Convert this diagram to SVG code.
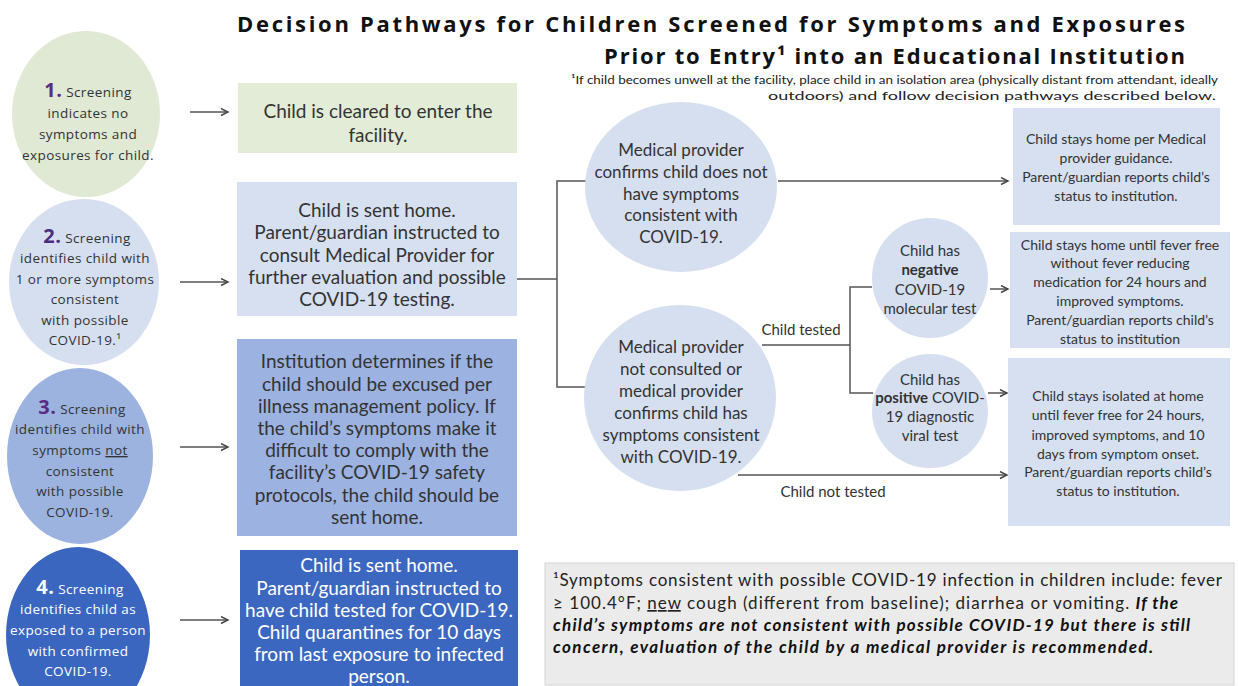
<svg xmlns="http://www.w3.org/2000/svg" width="1238" height="686" viewBox="0 0 1238 686">
<style>
.t{font-family:Lato,"Liberation Sans",sans-serif;fill:#333;text-anchor:middle}
.c{font-family:"Open Sans","Liberation Sans",sans-serif;fill:#333;text-anchor:middle;font-size:13.5px;letter-spacing:0.4px}
.cw{fill:#fff}
.b{font-size:19px}
.s{font-size:14px}
.ss{font-size:15px}
.m{font-size:17px}
.num{font-weight:bold;font-size:20px}
.w{fill:#fff}
.ln{fill:none;stroke:#555;stroke-width:1.5}
.title{font-family:"Open Sans","Liberation Sans",sans-serif;font-weight:bold;font-size:22px;fill:#111;text-anchor:end}
.note{font-family:Lato,"Liberation Sans",sans-serif;font-size:12px;fill:#222;text-anchor:end}
.fn{font-family:Lato,"Liberation Sans",sans-serif;font-size:17px;fill:#222}
.bi{font-weight:bold;font-style:italic;fill:#111}
</style>
<defs>
<marker id="ar" markerWidth="10" markerHeight="10" refX="8" refY="4" orient="auto" markerUnits="userSpaceOnUse">
<path d="M1,0.5 L8,4 L1,7.5" fill="none" stroke="#444" stroke-width="1.4"/>
</marker>
</defs>
<rect width="1238" height="686" fill="#fff"/>

<g id="title">
<text class="title" x="1185" y="32" textLength="948" lengthAdjust="spacing">Decision Pathways for Children Screened for Symptoms and Exposures</text>
<text class="title" x="1185" y="64" textLength="581" lengthAdjust="spacing">Prior to Entry¹ into an Educational Institution</text>
<text class="note" x="1218" y="84" textLength="647" lengthAdjust="spacingAndGlyphs">¹If child becomes unwell at the facility, place child in an isolation area (physically distant from attendant, ideally</text>
<text class="note" x="1216" y="100" textLength="448" lengthAdjust="spacingAndGlyphs">outdoors) and follow decision pathways described below.</text>
</g>

<g id="connectors">
<line class="ln" x1="190" y1="112" x2="228" y2="112" marker-end="url(#ar)"/>
<line class="ln" x1="180" y1="282" x2="228" y2="282" marker-end="url(#ar)"/>
<line class="ln" x1="180" y1="447" x2="228" y2="447" marker-end="url(#ar)"/>
<line class="ln" x1="180" y1="620" x2="228" y2="620" marker-end="url(#ar)"/>
<path class="ln" d="M517,279 H557 M588,181 H557 V387 H588"/>
<line class="ln" x1="778" y1="181" x2="1008" y2="181" marker-end="url(#ar)"/>
<path class="ln" d="M762,345 H850 M872,287 H850 V393 H873"/>
<line class="ln" x1="990" y1="289" x2="1008" y2="289" marker-end="url(#ar)"/>
<line class="ln" x1="988" y1="393" x2="1007" y2="393" marker-end="url(#ar)"/>
<line class="ln" x1="738" y1="475" x2="1007" y2="475" marker-end="url(#ar)"/>
<text class="t ss" x="801" y="335">Child tested</text>
<text class="t ss" x="833" y="497">Child not tested</text>
</g>

<g id="c1">
<ellipse cx="86" cy="114" rx="74" ry="83" fill="#dfe9d3"/>
<text class="c" x="88" y="97"><tspan class="num" fill="#5a2d82">1.</tspan> Screening</text>
<text class="c" x="88" y="118">indicates no</text>
<text class="c" x="88" y="139">symptoms and</text>
<text class="c" x="88" y="160">exposures for child.</text>
</g>
<g id="b1">
<rect x="238" y="83" width="279" height="70" fill="#e2ecd6"/>
<text class="t b" x="378" y="118">Child is cleared to enter the</text>
<text class="t b" x="378" y="142">facility.</text>
</g>

<g id="c2">
<ellipse cx="84" cy="282" rx="75" ry="83" fill="#d6dff0"/>
<text class="c" x="87" y="243"><tspan class="num" fill="#4b2c80">2.</tspan> Screening</text>
<text class="c" x="85" y="263">identifies child with</text>
<text class="c" x="85" y="284">1 or more symptoms</text>
<text class="c" x="85" y="304">consistent</text>
<text class="c" x="85" y="325">with possible</text>
<text class="c" x="85" y="345">COVID-19.¹</text>
</g>
<g id="b2">
<rect x="237" y="182" width="280" height="134" fill="#d6e0f1"/>
<text class="t b" x="377" y="217">Child is sent home.</text>
<text class="t b" x="377" y="239">Parent/guardian instructed to</text>
<text class="t b" x="377" y="262">consult Medical Provider for</text>
<text class="t b" x="377" y="284">further evaluation and possible</text>
<text class="t b" x="377" y="306">COVID-19 testing.</text>
</g>

<g id="c3">
<ellipse cx="80" cy="456" rx="73" ry="88" fill="#9db3df"/>
<text class="c" x="82" y="414"><tspan class="num" fill="#5b2a86">3.</tspan> Screening</text>
<text class="c" x="80" y="434">identifies child with</text>
<text class="c" x="80" y="455">symptoms <tspan text-decoration="underline">not</tspan></text>
<text class="c" x="80" y="476">consistent</text>
<text class="c" x="80" y="496">with possible</text>
<text class="c" x="80" y="517">COVID-19.</text>
</g>
<g id="b3">
<rect x="237" y="339" width="280" height="197" fill="#9cb2e1"/>
<text class="t b" x="377" y="368">Institution determines if the</text>
<text class="t b" x="377" y="391">child should be excused per</text>
<text class="t b" x="377" y="413">illness management policy. If</text>
<text class="t b" x="377" y="435">the child’s symptoms make it</text>
<text class="t b" x="377" y="457">difficult to comply with the</text>
<text class="t b" x="377" y="479">facility’s COVID-19 safety</text>
<text class="t b" x="377" y="502">protocols, the child should be</text>
<text class="t b" x="377" y="524">sent home.</text>
</g>

<g id="c4">
<ellipse cx="78" cy="635" rx="72" ry="88" fill="#3a66c0"/>
<text class="c cw" x="80" y="594"><tspan class="num">4.</tspan> Screening</text>
<text class="c cw" x="78" y="614">identifies child as</text>
<text class="c cw" x="78" y="635">exposed to a person</text>
<text class="c cw" x="78" y="656">with confirmed</text>
<text class="c cw" x="78" y="676">COVID-19.</text>
</g>
<g id="b4">
<rect x="240" y="550" width="278" height="136" fill="#3c67c1"/>
<text class="t b w" x="379" y="572">Child is sent home.</text>
<text class="t b w" x="379" y="595">Parent/guardian instructed to</text>
<text class="t b w" x="379" y="617">have child tested for COVID-19.</text>
<text class="t b w" x="379" y="639">Child quarantines for 10 days</text>
<text class="t b w" x="379" y="661">from last exposure to infected</text>
<text class="t b w" x="379" y="683">person.</text>
</g>

<g id="m1">
<ellipse cx="681" cy="187" rx="96" ry="85" fill="#d6dff0"/>
<text class="t m" x="681" y="156">Medical provider</text>
<text class="t m" x="681" y="178">confirms child does not</text>
<text class="t m" x="681" y="200">have symptoms</text>
<text class="t m" x="681" y="221">consistent with</text>
<text class="t m" x="681" y="243">COVID-19.</text>
</g>

<g id="m2">
<ellipse cx="680" cy="398" rx="96" ry="93" fill="#d6dff0"/>
<text class="t m" x="681" y="353">Medical provider</text>
<text class="t m" x="681" y="375">not consulted or</text>
<text class="t m" x="681" y="397">medical provider</text>
<text class="t m" x="681" y="419">confirms child has</text>
<text class="t m" x="681" y="441">symptoms consistent</text>
<text class="t m" x="681" y="463">with COVID-19.</text>
</g>

<g id="neg">
<ellipse cx="930" cy="278" rx="58" ry="60" fill="#d6dff0"/>
<text class="t ss" x="930" y="256">Child has</text>
<text class="t ss" x="930" y="275" font-weight="bold">negative</text>
<text class="t ss" x="930" y="295">COVID-19</text>
<text class="t ss" x="930" y="314">molecular test</text>
</g>

<g id="pos">
<ellipse cx="930" cy="411" rx="58" ry="57" fill="#d6dff0"/>
<text class="t ss" x="930" y="385">Child has</text>
<text class="t ss" x="930" y="403"><tspan font-weight="bold">positive</tspan> COVID-</text>
<text class="t ss" x="930" y="422">19 diagnostic</text>
<text class="t ss" x="930" y="441">viral test</text>
</g>

<g id="r1">
<rect x="1013" y="108" width="207" height="117" fill="#d6e0f1"/>
<text class="t s" x="1116" y="144">Child stays home per Medical</text>
<text class="t s" x="1116" y="163">provider guidance.</text>
<text class="t s" x="1116" y="182">Parent/guardian reports child’s</text>
<text class="t s" x="1116" y="201">status to institution.</text>
</g>

<g id="r2">
<rect x="1010" y="232" width="220" height="116" fill="#d6e0f1"/>
<text class="t s" x="1120" y="250">Child stays home until fever free</text>
<text class="t s" x="1120" y="268">without fever reducing</text>
<text class="t s" x="1120" y="287">medication for 24 hours and</text>
<text class="t s" x="1120" y="306">improved symptoms.</text>
<text class="t s" x="1120" y="325">Parent/guardian reports child’s</text>
<text class="t s" x="1120" y="344">status to institution</text>
</g>

<g id="r3">
<rect x="1008" y="358" width="222" height="168" fill="#d6e0f1"/>
<text class="t s" x="1118" y="401">Child stays isolated at home</text>
<text class="t s" x="1118" y="420">until fever free for 24 hours,</text>
<text class="t s" x="1118" y="440">improved symptoms, and 10</text>
<text class="t s" x="1118" y="459">days from symptom onset.</text>
<text class="t s" x="1118" y="477">Parent/guardian reports child’s</text>
<text class="t s" x="1118" y="496">status to institution.</text>
</g>

<g id="footnote">
<rect x="545" y="563" width="689" height="122" fill="#ebebeb" stroke="#d4d4d4" stroke-width="1"/>
<text class="fn" x="553" y="586" textLength="669" lengthAdjust="spacing">¹Symptoms consistent with possible COVID-19 infection in children include: fever</text>
<text class="fn" x="553" y="609" textLength="625" lengthAdjust="spacing">≥ 100.4°F; <tspan text-decoration="underline">new</tspan> cough (different from baseline); diarrhea or vomiting. <tspan class="bi">If the</tspan></text>
<text class="fn bi" x="553" y="631" textLength="637" lengthAdjust="spacing">child’s symptoms are not consistent with possible COVID-19 but there is still</text>
<text class="fn bi" x="553" y="653" textLength="600" lengthAdjust="spacing">concern, evaluation of the child by a medical provider is recommended.</text>
</g>
</svg>
